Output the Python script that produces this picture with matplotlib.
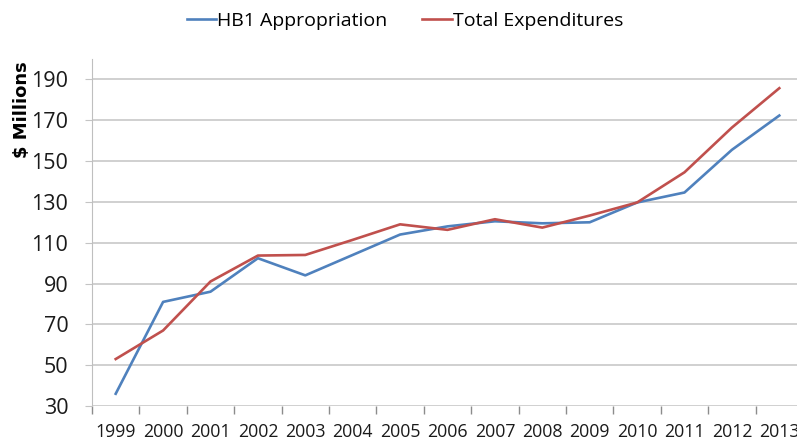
import numpy as np
import matplotlib.pyplot as plt

# values ($ millions)
years = ['1999', '2000', '2001', '2002', '2003', '2004', '2005', '2006',
         '2007', '2008', '2009', '2010', '2011', '2012', '2013']
hb1 = [36, 81, 86, 102.4, 94, 104, 114, 118, 120.5, 119.5, 120, 129.7, 134.6, 155.5, 172.3]
total = [53, 67, 91, 103.7, 104, 111.4, 119, 116.3, 121.5, 117.4, 123.3, 129.7, 144.5, 166.4, 185.7]
yticks = [30, 50, 70, 90, 110, 130, 150, 170, 190]

plt.rcParams['font.family'] = ['Open Sans', 'DejaVu Sans']

gridcol = '#c4c4c4'
fig = plt.figure(figsize=(7.97, 4.40), dpi=100)
# the right edge of the plot runs past the picture, as in the original
ax = fig.add_axes([92/797, 34/440, 711/797, 347/440])

x = np.arange(len(years))
ax.plot(x, hb1, color='#4F81BD', lw=1.9, label='HB1 Appropriation')
ax.plot(x, total, color='#C0504D', lw=1.9, label='Total Expenditures')

ax.set_xlim(-0.5, len(years) - 0.5)
ax.set_ylim(30, 200)
ax.set_yticks(yticks)
ax.yaxis.grid(True, color=gridcol, lw=1.1)
ax.set_axisbelow(True)

# ticks between categories, labels at the centres
ax.set_xticks(np.arange(-0.5, len(years), 1.0))
ax.set_xticklabels([])
ax.set_xticks(x, minor=True)
ax.set_xticklabels(years, minor=True, fontsize=12.8, color='#1a1a1a')
ax.tick_params(axis='x', which='major', length=6, color='#8c8c8c', width=1)
ax.tick_params(axis='x', which='minor', length=0, pad=12)
ax.tick_params(axis='y', length=5, color=gridcol, labelsize=15.5, labelcolor='#1a1a1a', pad=12)

for s in ['top', 'right', 'bottom']:
    ax.spines[s].set_visible(False)
ax.spines['left'].set_color('#bfbfbf')

ax.set_ylabel('$ Millions', fontsize=13, fontweight='bold', family=['DejaVu Sans'])
ax.yaxis.set_label_coords(-0.098, 0.855, transform=ax.transAxes)
ax.yaxis.label.set_verticalalignment('center')

fig.legend(loc='upper center', bbox_to_anchor=(405/797, 1.012), ncol=2, frameon=False,
           fontsize=14, handlelength=1.5, handletextpad=0.05, columnspacing=1.8)

plt.savefig('out.png', dpi=100)
